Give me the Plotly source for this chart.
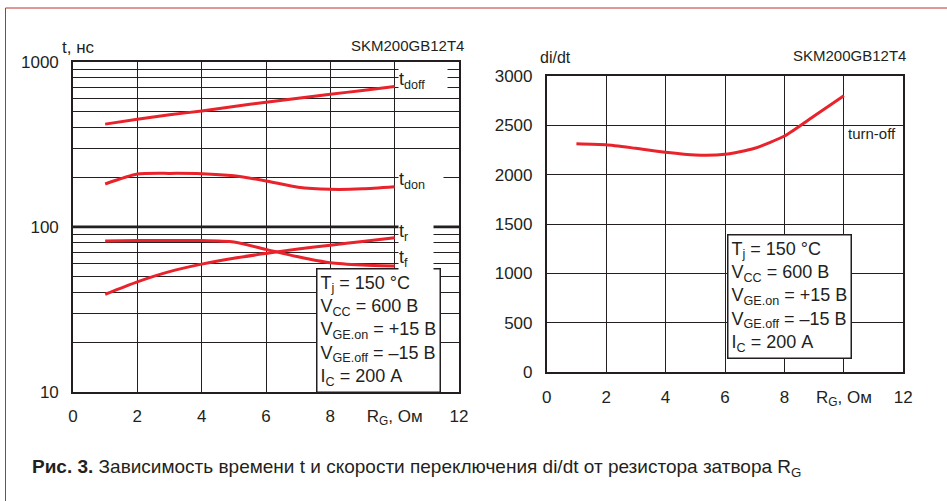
import plotly.graph_objects as go

# Switching times vs gate resistance, SKM200GB12T4
rg = [1, 2, 3, 4, 5, 6, 7, 8, 9, 10]
t_doff = [420, 450, 478, 505, 537, 570, 603, 637, 672, 710]
t_don = [182, 209, 211, 210, 204, 190, 174, 169, 170, 175]
t_r = [39, 46.4, 53.5, 59.4, 64.5, 69, 73.5, 77.4, 81.5, 85.8]
t_f = [82, 82.5, 82.7, 82.7, 81, 73, 65.8, 60.5, 58.6, 57.8]

# Turn-off di/dt vs gate resistance
didt = [2315, 2305, 2268, 2228, 2200, 2207, 2268, 2392, 2595, 2800]

x_tickvals = [0, 2, 4, 6, 8, 10, 12]
x_ticktext = ["0", "2", "4", "6", "8", "R<sub>G</sub>, Ом", "12"]
t_major = [10, 100, 1000]
t_minor = [20, 30, 40, 50, 60, 70, 80, 90, 200, 300, 400, 500, 600, 700, 800, 900]
didt_ticks = [0, 500, 1000, 1500, 2000, 2500, 3000]

conditions = ("T<sub>j</sub> = 150 °C<br>V<sub>CC</sub> = 600 В<br>"
              "V<sub>GE.on</sub> = +15 В<br>V<sub>GE.off</sub> = –15 В<br>"
              "I<sub>C</sub> = 200 А")

W, H = 947, 501
INK = "#231f20"
RED = "#e8232b"
FONT = "Liberation Sans, Arial, sans-serif"

def px_x(p):
    return p / W

def px_y(p):
    return 1 - p / H

fig = go.Figure()

curve = dict(mode="lines", line=dict(color=RED, width=3, shape="spline", smoothing=0.6),
             hoverinfo="skip", showlegend=False)
for series in (t_doff, t_don, t_r, t_f):
    fig.add_trace(go.Scatter(x=rg, y=series, xaxis="x", yaxis="y", **curve))
fig.add_trace(go.Scatter(x=rg, y=didt, xaxis="x2", yaxis="y2", **curve))

axis_common = dict(showline=True, mirror=True, linecolor=INK, linewidth=1.6,
                   showgrid=True, gridcolor=INK, gridwidth=1.4, zeroline=False,
                   ticks="", tickfont=dict(family=FONT, size=17, color=INK),
                   automargin=False, fixedrange=True)

t_vals = sorted(t_major + t_minor)
t_text = [str(v) if v in t_major else "" for v in t_vals]

fig.update_layout(
    width=W, height=H, autosize=False, showlegend=False,
    margin=dict(l=0, r=0, t=0, b=0, pad=0, autoexpand=False),
    paper_bgcolor="white", plot_bgcolor="white",
    xaxis=dict(domain=[px_x(73), px_x(459)], range=[0, 12], anchor="y",
               tickmode="array", tickvals=x_tickvals, ticktext=x_ticktext,
               ticklabelstandoff=8, **axis_common),
    yaxis=dict(domain=[px_y(391.7), px_y(62)], type="log", range=[1, 3], anchor="x",
               tickmode="array", tickvals=t_vals, ticktext=t_text,
               ticklabelstandoff=9, **axis_common),
    xaxis2=dict(domain=[px_x(546.7), px_x(903.3)], range=[0, 12], anchor="y2",
                tickmode="array", tickvals=x_tickvals, ticktext=x_ticktext,
                ticklabelstandoff=8, **axis_common),
    yaxis2=dict(domain=[px_y(372.3), px_y(76)], range=[0, 3000], anchor="x2",
                tickmode="array", tickvals=didt_ticks,
                ticklabelstandoff=9, **axis_common),
)

# heavier decade line at 100 ns
fig.add_shape(type="line", xref="x", yref="y", x0=0, x1=12, y0=100, y1=100,
              line=dict(color=INK, width=2.6), layer="below")

# page frame
fig.add_shape(type="line", xref="paper", yref="paper", x0=px_x(5.5), x1=1.0,
              y0=px_y(8), y1=px_y(8), line=dict(color="#c0302f", width=1))
fig.add_shape(type="line", xref="paper", yref="paper", x0=px_x(5.5), x1=px_x(5.5),
              y0=0.0, y1=px_y(8), line=dict(color="#c0302f", width=1))

ann_font = dict(family=FONT, size=18, color=INK)
annotations = [
    dict(text="t, нс", x=px_x(60), y=px_y(47), xanchor="left", yanchor="middle",
         font=dict(family=FONT, size=17, color=INK)),
    dict(text="SKM200GB12T4", x=px_x(466), y=px_y(45), xanchor="right", yanchor="middle",
         font=dict(family=FONT, size=15, color=INK)),
    dict(text="di/dt", x=px_x(538), y=px_y(57), xanchor="left", yanchor="middle",
         font=dict(family=FONT, size=16, color=INK)),
    dict(text="SKM200GB12T4", x=px_x(908), y=px_y(56), xanchor="right", yanchor="middle",
         font=dict(family=FONT, size=15, color=INK)),
    dict(text="turn-off", x=px_x(846), y=px_y(134), xanchor="left", yanchor="middle",
         font=dict(family=FONT, size=15, color=INK)),
    dict(text=conditions, x=px_x(316), y=px_y(268), xanchor="left", yanchor="top",
         align="left", bgcolor="white", bordercolor=INK, borderwidth=1.5, borderpad=3,
         font=ann_font),
    dict(text=conditions, x=px_x(727), y=px_y(234), xanchor="left", yanchor="top",
         align="left", bgcolor="white", bordercolor=INK, borderwidth=1.5, borderpad=3,
         font=ann_font),
    dict(text="<b>Рис. 3.</b> Зависимость времени t и скорости переключения di/dt "
              "от резистора затвора R<sub>G</sub>",
         x=px_x(30), y=px_y(468), xanchor="left", yanchor="middle",
         font=dict(family=FONT, size=19, color=INK)),
]
for a in annotations:
    a.update(xref="paper", yref="paper", showarrow=False)
    fig.add_annotation(**a)

# curve labels on the right edge of the time plot
labels = [("t<sub>doff</sub>", 2.885, 48), ("t<sub>don</sub>", 2.28, 44),
          ("t<sub>r</sub>", 1.965, 34), ("t<sub>f</sub>", 1.81, 34)]
for txt, ylog, w in labels:
    fig.add_annotation(text=txt, xref="x", yref="y", x=10.1, y=ylog,
                       xanchor="left", yanchor="middle", showarrow=False,
                       bgcolor="white", width=w, align="left", borderpad=0,
                       font=dict(family=FONT, size=18, color=INK))

fig.write_html("out.html")
